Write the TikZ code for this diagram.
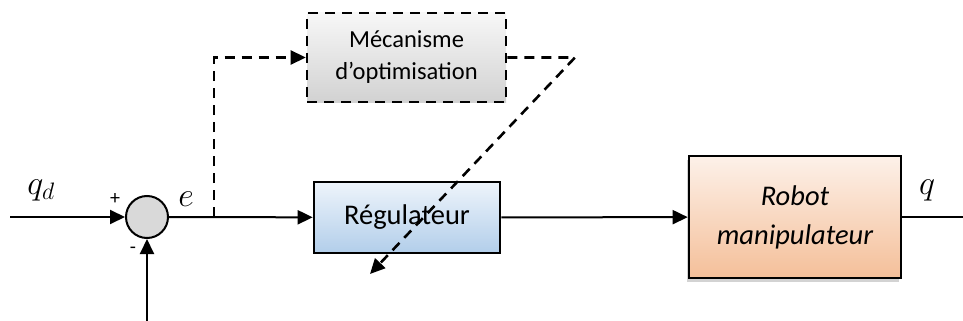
\RequirePackage{fix-cm}
\documentclass[tikz,border=0pt]{standalone}
\usepackage{fontspec}
\setmainfont{Carlito}
\usepackage{tikz}
\usetikzlibrary{arrows.meta,shadows}
\definecolor{Ink}{HTML}{000000}
\definecolor{SumFill}{HTML}{D9D9D9}
\definecolor{GreyTop}{HTML}{F7F7F7}
\definecolor{GreyBot}{HTML}{D2D2D2}
\definecolor{BlueTop}{HTML}{EEF4FB}
\definecolor{BlueBot}{HTML}{B2CEEA}
\definecolor{PeachTop}{HTML}{FDF1E9}
\definecolor{PeachBot}{HTML}{F4BF99}

\begin{document}
\begin{tikzpicture}[x=1pt,y=-1pt,
      block/.style={draw=Ink,line width=2.6pt,align=center,inner sep=0pt},
      sig/.style={line width=2pt,draw=Ink},
      arr/.style={sig,-{Triangle[length=15pt,width=14pt]}},
      dsh/.style={line width=2.6pt,dash pattern=on 10pt off 7pt},
      lbl/.style={font=\fontsize{34}{40}\selectfont}]
      \useasboundingbox (0,0) rectangle (963,321);
      % blocks
      \node[block,dsh,minimum width=199pt,minimum height=89pt,
        top color=GreyTop,bottom color=GreyBot,
        font=\fontsize{24.5}{32}\selectfont] (optim) at (406.5,57.5) {Mécanisme\\d’optimisation};
      \node[block,minimum width=186pt,minimum height=71pt,
        top color=BlueTop,bottom color=BlueBot,
        font=\fontsize{28.5}{34}\selectfont] (regul) at (407,217.5) {Régulateur};
      \node[block,minimum width=212pt,minimum height=122pt,
        top color=PeachTop,bottom color=PeachBot,
        drop shadow={shadow xshift=-2pt,shadow yshift=-4pt,opacity=.35,fill=gray},
        font=\fontsize{28.5}{39}\selectfont\itshape] (robot) at (795,217) {Robot\\manipulateur};
      \node[circle,draw=Ink,line width=2pt,fill=SumFill,minimum size=42pt] (sum) at (147,217) {};
      % free ends
      \coordinate (qin) at (10,217);
      \coordinate (fb) at (147,321);
      \coordinate (qout) at (963,217);
      \coordinate (branch) at (214,217);
      \coordinate (corner) at (214,57.5);
      \coordinate (tip) at (575,57.5);
      \coordinate (adapt) at (370,274);
      % signals
      \draw[arr] (qin) -- (sum);
      \draw[arr] (fb) -- (sum);
      \draw[arr] (sum) -- (regul);
      \draw[arr] (regul) -- (robot);
      \draw[sig] (robot) -- (qout);
      \draw[arr,dsh] (branch) -- (corner) -- (optim);
      \draw[arr,dsh] (optim) -- (tip) -- (adapt);
      % labels
      \node[lbl] (qd) at (41,190) {$q_d$};
      \node[font=\fontsize{20}{24}\selectfont] (plus) at (115,199) {+};
      \node[font=\fontsize{20}{24}\selectfont] (minus) at (133,250) {-};
      \node[lbl] (err) at (186,199) {$e$};
      \node[lbl] (qo) at (927,190) {$q$};
    \end{tikzpicture}
\end{document}
